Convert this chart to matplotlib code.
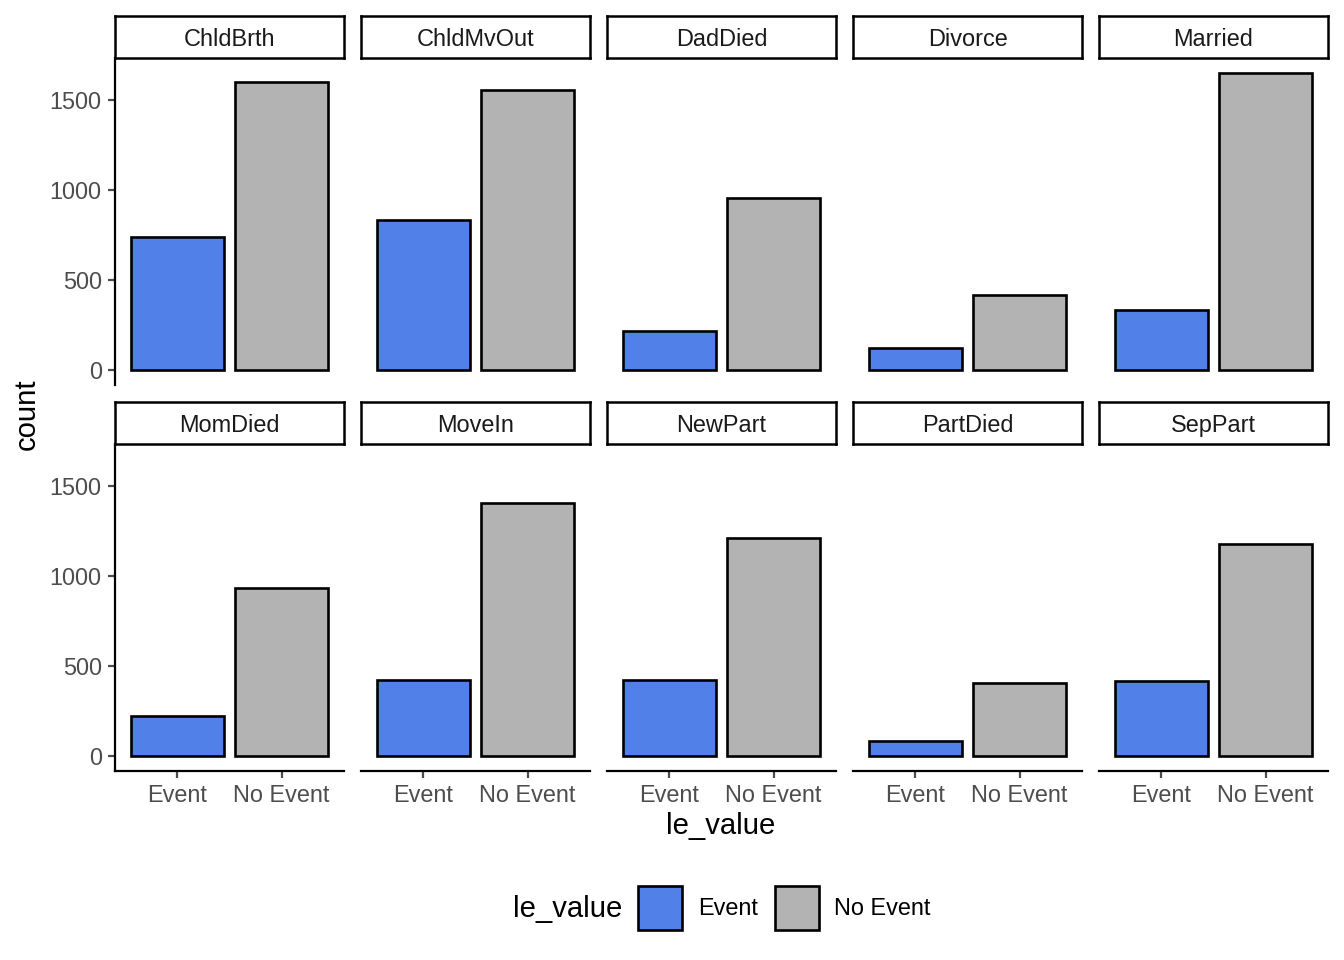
import matplotlib
matplotlib.use("Agg")
import matplotlib.pyplot as plt
from matplotlib.patches import Patch

plt.rcParams["font.family"] = ["Liberation Sans", "DejaVu Sans"]

events = ["ChldBrth", "ChldMvOut", "DadDied", "Divorce", "Married",
          "MomDied", "MoveIn", "NewPart", "PartDied", "SepPart"]
levels = ["Event", "No Event"]
event_counts = [739, 833, 217, 122, 333, 222, 422, 422, 83, 417]
no_event_counts = [1600, 1556, 956, 417, 1650, 933, 1406, 1211, 406, 1178]
y_ticks = [0, 500, 1000, 1500]

colors = {"Event": "#5280E9", "No Event": "#B3B3B3"}

W, H = 1344, 960
fig = plt.figure(figsize=(W / 100, H / 100), dpi=100)

col_x = [115, 361, 607, 853, 1099]
panel_w = 229
rows = [(58, 385, 16), (444, 771, 402)]  # panel top, panel bottom, strip top
strip_h = 42

ymax = max(event_counts + no_event_counts)
ylim = (-0.05 * ymax, 1.05 * ymax)

tick_fs = 16.9
grey30 = "#4D4D4D"

for i, name in enumerate(events):
    r, c = divmod(i, 5)
    top, bottom, strip_top = rows[r]
    x0 = col_x[c]
    ax = fig.add_axes([x0 / W, 1 - bottom / H, panel_w / W, (bottom - top) / H])
    vals = [event_counts[i], no_event_counts[i]]
    ax.bar(levels, vals, width=0.9, color=[colors[l] for l in levels],
           edgecolor="black", linewidth=1.9)
    ax.set_xlim(-0.6, 1.6)
    ax.set_ylim(*ylim)
    ax.set_yticks(y_ticks)
    for s in ["top", "right"]:
        ax.spines[s].set_visible(False)
    ax.spines["left"].set_visible(c == 0)
    ax.spines["bottom"].set_visible(r == 1)
    ax.spines["left"].set_linewidth(1.6)
    ax.spines["bottom"].set_linewidth(1.6)
    ax.tick_params(axis="both", colors=grey30, labelcolor=grey30,
                   labelsize=tick_fs, length=5.2, width=1.6, pad=4.4)
    if c != 0:
        ax.tick_params(axis="y", left=False, labelleft=False)
    if r != 1:
        ax.tick_params(axis="x", bottom=False, labelbottom=False)

    sax = fig.add_axes([x0 / W, 1 - (strip_top + strip_h) / H,
                        panel_w / W, strip_h / H])
    sax.set_xticks([])
    sax.set_yticks([])
    for s in sax.spines.values():
        s.set_linewidth(1.8)
    sax.text(0.5, 0.45, name, ha="center", va="center",
             fontsize=tick_fs, color="#1A1A1A", transform=sax.transAxes)

fig.text(721 / W, 1 - 826 / H, "le_value", ha="center", va="center",
         fontsize=21.1)
fig.text(27 / W, 1 - 414 / H, "count", ha="center", va="center",
         fontsize=21.1, rotation=90)

fig.text(622 / W, 1 - 909 / H, "le_value", ha="right", va="center",
         fontsize=21.1)
handles = [Patch(facecolor=colors[l], edgecolor="black", linewidth=1.9)
           for l in levels]
fig.legend(handles, levels, ncol=2, loc="center left",
           bbox_to_anchor=(638 / W, 1 - 908 / H), frameon=False,
           fontsize=tick_fs, handlelength=1.87, handleheight=2.51,
           handletextpad=0.68, columnspacing=0.72, borderaxespad=0,
           borderpad=0)

fig.savefig("out.png", dpi=100)
